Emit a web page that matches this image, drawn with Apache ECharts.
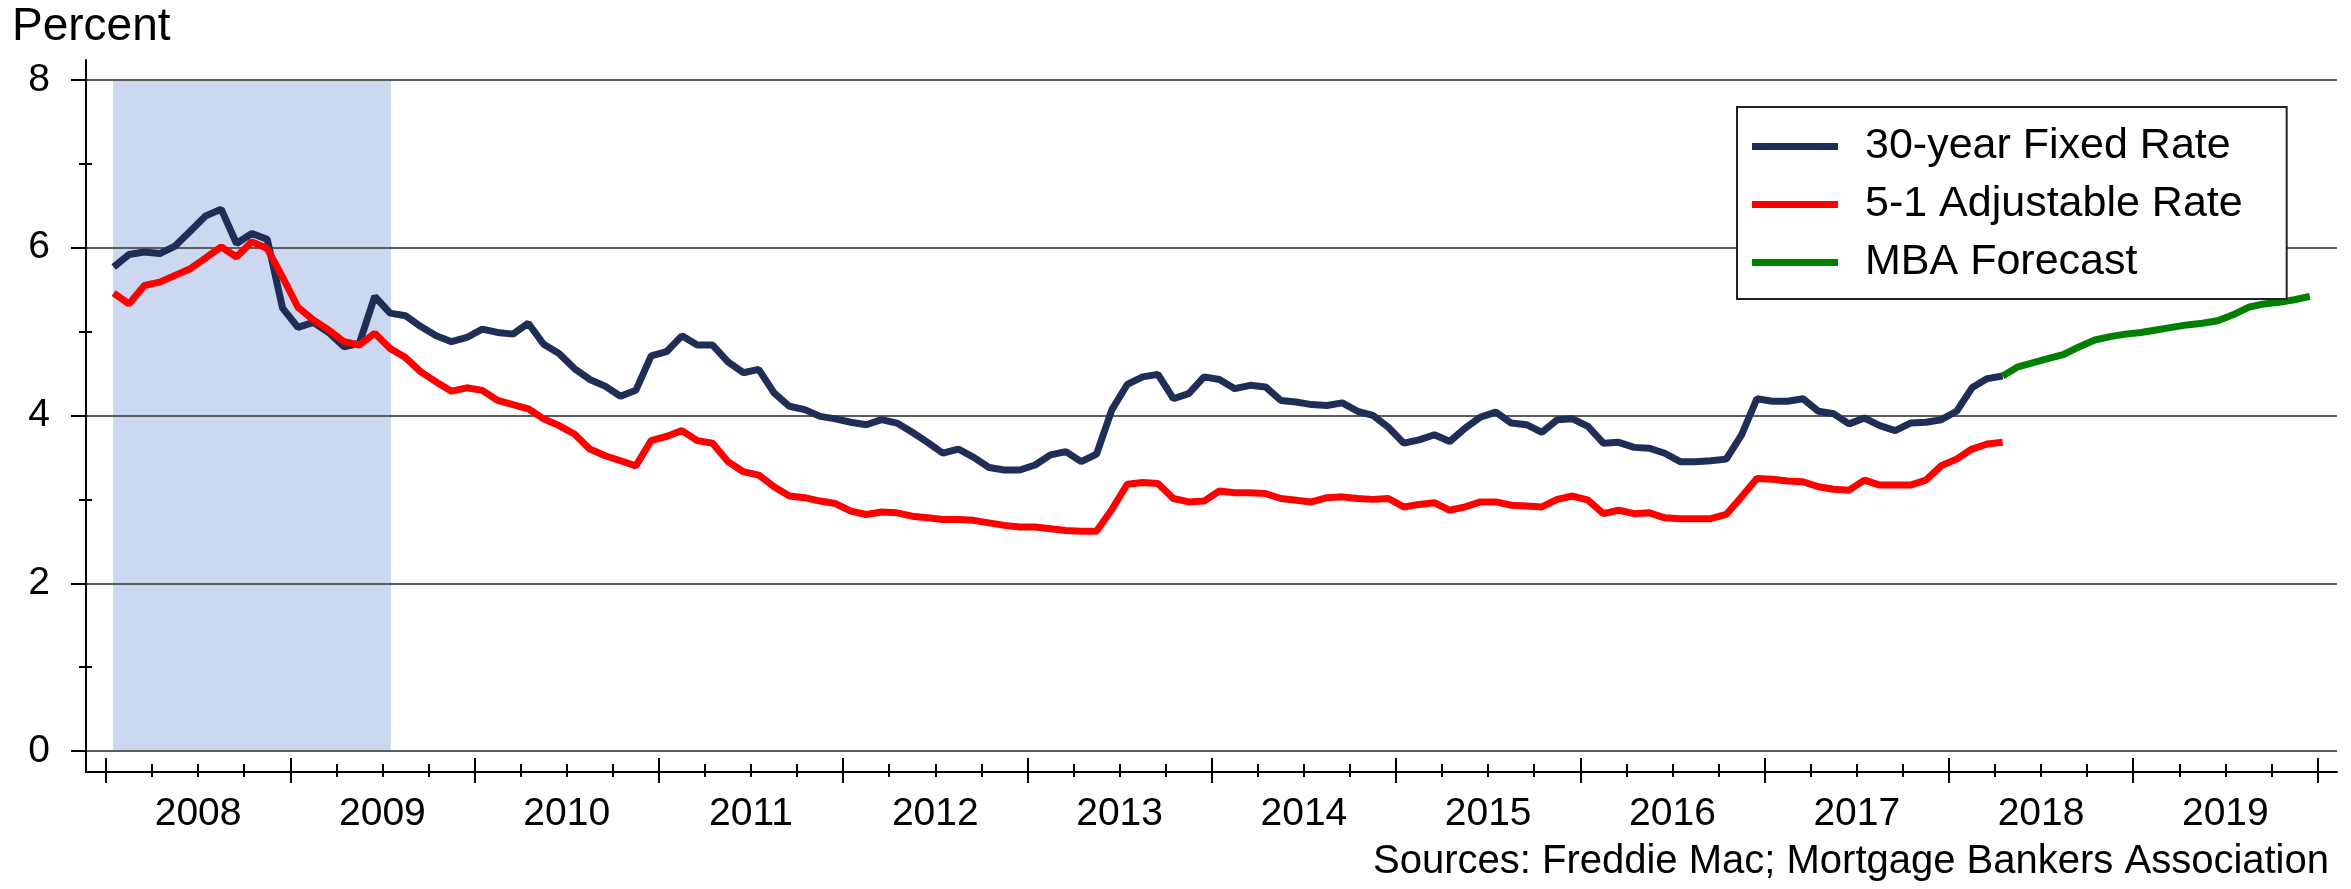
<!DOCTYPE html>
<html>
<head>
<meta charset="utf-8">
<title>Mortgage rates</title>
<script src="https://cdn.jsdelivr.net/npm/echarts@6/dist/echarts.min.js"></script>
<style>
html, body { margin: 0; padding: 0; background: #fff; }
#main { width: 2351px; height: 889px; }
</style>
</head>
<body>
<div id="main"></div>
<script>
// x is counted in months from Jan 2008, monthly points sit mid-month
var years = [2008, 2009, 2010, 2011, 2012, 2013, 2014, 2015, 2016, 2017, 2018, 2019];

// Jan 2008 .. Apr 2018
var fixed30 = [
    5.77, 5.92, 5.95, 5.93, 6.02, 6.20, 6.38, 6.46, 6.05, 6.17, 6.10, 5.28,
    5.05, 5.11, 4.99, 4.82, 4.86, 5.42, 5.22, 5.19, 5.06, 4.95, 4.88, 4.93,
    5.03, 4.99, 4.97, 5.10, 4.85, 4.74, 4.56, 4.43, 4.35, 4.23, 4.30, 4.71,
    4.76, 4.95, 4.84, 4.84, 4.64, 4.51, 4.55, 4.27, 4.11, 4.07, 3.99, 3.96,
    3.92, 3.89, 3.95, 3.91, 3.80, 3.68, 3.55, 3.60, 3.50, 3.38, 3.35, 3.35,
    3.41, 3.53, 3.57, 3.45, 3.54, 4.07, 4.37, 4.46, 4.49, 4.20, 4.26, 4.46,
    4.43, 4.32, 4.36, 4.34, 4.18, 4.16, 4.13, 4.12, 4.15, 4.05, 4.00, 3.86,
    3.67, 3.71, 3.77, 3.69, 3.85, 3.98, 4.04, 3.91, 3.89, 3.80, 3.95, 3.96,
    3.87, 3.67, 3.68, 3.62, 3.61, 3.55, 3.45, 3.45, 3.46, 3.48, 3.77, 4.20,
    4.17, 4.17, 4.20, 4.05, 4.02, 3.90, 3.97, 3.88, 3.82, 3.91, 3.92, 3.95,
    4.05, 4.33, 4.44, 4.47
];

var arm51 = [
    5.46, 5.33, 5.55, 5.59, 5.67, 5.75, 5.88, 6.01, 5.89, 6.07, 5.99, 5.65,
    5.29, 5.14, 5.02, 4.88, 4.84, 4.98, 4.80, 4.69, 4.52, 4.40, 4.29, 4.33,
    4.30, 4.18, 4.13, 4.08, 3.96, 3.88, 3.78, 3.60, 3.52, 3.46, 3.40, 3.70,
    3.75, 3.82, 3.70, 3.67, 3.45, 3.33, 3.29, 3.15, 3.04, 3.02, 2.98, 2.95,
    2.86, 2.82, 2.85, 2.84, 2.80, 2.78, 2.76, 2.76, 2.75, 2.72, 2.69, 2.67,
    2.67, 2.65, 2.63, 2.62, 2.62, 2.88, 3.18, 3.20, 3.19, 3.01, 2.97, 2.98,
    3.10, 3.08, 3.08, 3.07, 3.01, 2.99, 2.97, 3.02, 3.03, 3.01, 3.00, 3.01,
    2.91, 2.94, 2.96, 2.87, 2.91, 2.97, 2.97, 2.93, 2.92, 2.91, 3.00, 3.04,
    2.99, 2.83, 2.87, 2.83, 2.84, 2.78, 2.77, 2.77, 2.77, 2.82, 3.03, 3.25,
    3.24, 3.22, 3.21, 3.15, 3.12, 3.11, 3.23, 3.17, 3.17, 3.17, 3.23, 3.40,
    3.48, 3.60, 3.66, 3.68
];

// Apr 2018 .. Dec 2019
var mbaForecast = [
    4.47, 4.58, 4.63, 4.68, 4.73, 4.82, 4.90, 4.94, 4.97,
    4.99, 5.02, 5.05, 5.08, 5.10, 5.13, 5.20, 5.29, 5.33, 5.35, 5.38, 5.42
];
var forecastStart = 123; // month index of Apr 2018

var recession = [0.45, 18.55];
var yTicks = [0, 2, 4, 6, 8];
var yMinor = [1, 3, 5, 7];

var xMin = -1.3, xMax = 145.27;
var yMin = -0.25, yMax = 8.238;
var font = 'Liberation Sans, Arial, sans-serif';

var yearTicks = years.map(function (y) { return (y - years[0]) * 12; });
yearTicks.push(years.length * 12);
var yearMids = years.map(function (y) { return (y - years[0]) * 12 + 6; });
var quarterTicks = [];
years.forEach(function (y) {
    var b = (y - years[0]) * 12;
    quarterTicks.push(b + 3, b + 6, b + 9);
});

function toPoints(vals, start) {
    return vals.map(function (v, i) { return [start + i + 0.5, v]; });
}

/**
 * one x axis layer (ticks only, unless changed afterwards)
 */
function xLayer(ticks, len, inside) {
    return {
        type: 'value', min: xMin, max: xMax, position: 'bottom',
        axisLine: {show: false, onZero: false},
        axisTick: {show: true, inside: inside, length: len, customValues: ticks,
            lineStyle: {color: '#000', width: 2}},
        axisLabel: {show: false},
        splitLine: {show: false}
    };
}

function yLayer(ticks, len, inside) {
    return {
        type: 'value', min: yMin, max: yMax, position: 'left',
        axisLine: {show: false, onZero: false},
        axisTick: {show: true, inside: inside, length: len, customValues: ticks,
            lineStyle: {color: '#000', width: 2}},
        axisLabel: {show: false},
        splitLine: {show: false}
    };
}

var xMain = xLayer(yearTicks, 11, false);
xMain.axisLine = {show: true, onZero: false, lineStyle: {color: '#000', width: 2}};
xMain.axisLabel = {
    show: true, customValues: yearMids, margin: 23,
    fontSize: 39, color: '#000', fontFamily: font,
    formatter: function (v) { return String(years[0] + (v - 6) / 12); }
};

var yMain = yLayer(yTicks, 15, false);
yMain.z = 2;
yMain.axisLine = {show: true, onZero: false, lineStyle: {color: '#000', width: 2}};
yMain.axisLabel = {show: true, customValues: yTicks, margin: 36,
    fontSize: 39, color: '#000', fontFamily: font};
yMain.splitLine = {show: true, lineStyle: {color: '#5c5c5c', width: 2}};

var navy = '#1f2e56', red = '#ff0000', green = '#008000';

var myChart = echarts.init(document.getElementById('main'));
var option = {
    animation: false,
    backgroundColor: '#fff',
    title: [{
        text: 'Percent', left: 12, top: 4, padding: 0,
        textStyle: {fontSize: 46, fontWeight: 'normal', color: '#000', fontFamily: font}
    }, {
        text: 'Sources: Freddie Mac; Mortgage Bankers Association', right: 22, top: 842, padding: 0,
        textStyle: {fontSize: 40, fontWeight: 'normal', color: '#000', fontFamily: font}
    }],
    legend: {
        orient: 'vertical', left: 1737, top: 107,
        padding: [18, 44, 15, 15], itemGap: 15,
        backgroundColor: '#fff', borderColor: '#222', borderWidth: 2,
        icon: 'rect', itemWidth: 86, itemHeight: 7,
        selectedMode: false,
        data: ['30-year Fixed Rate', '5-1 Adjustable Rate', 'MBA Forecast'],
        textStyle: {fontSize: 43, color: '#000', fontFamily: font, padding: [0, 0, 0, 22]}
    },
    grid: {left: 86, right: 14, top: 60, bottom: 117, containLabel: false},
    xAxis: [xMain, xLayer(yearTicks, 14, true), xLayer(quarterTicks, 5, false), xLayer(quarterTicks, 8, true)],
    yAxis: [yMain, yLayer(yTicks, 13, true), yLayer(yMinor, 7, false), yLayer(yMinor, 6, true)],
    series: [{
        name: 'recession', type: 'line', data: [], z: 1, silent: true,
        markArea: {
            silent: true,
            itemStyle: {color: '#ccd8ef'},
            data: [[{xAxis: recession[0], yAxis: 0}, {xAxis: recession[1], yAxis: 8}]]
        }
    }, {
        name: '30-year Fixed Rate', type: 'line', z: 3,
        data: toPoints(fixed30, 0), symbol: 'none',
        lineStyle: {color: navy, width: 7}, itemStyle: {color: navy}
    }, {
        name: '5-1 Adjustable Rate', type: 'line', z: 3,
        data: toPoints(arm51, 0), symbol: 'none',
        lineStyle: {color: red, width: 7}, itemStyle: {color: red}
    }, {
        name: 'MBA Forecast', type: 'line', z: 3,
        data: toPoints(mbaForecast, forecastStart), symbol: 'none',
        lineStyle: {color: green, width: 7}, itemStyle: {color: green}
    }]
};
myChart.setOption(option);
</script>
</body>
</html>
